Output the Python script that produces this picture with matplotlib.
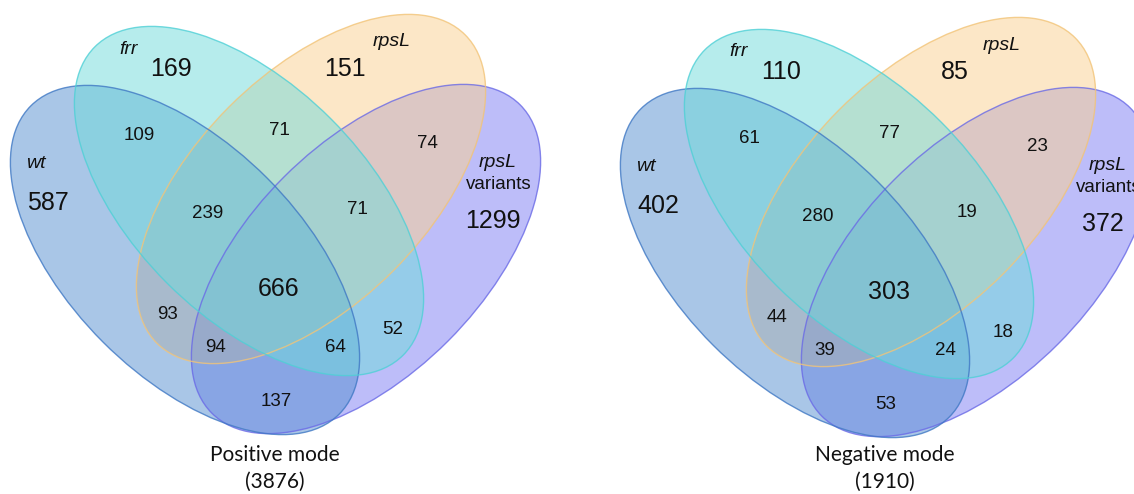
import numpy as np
import matplotlib.pyplot as plt
from matplotlib.patches import Ellipse

# set names and region counts (order of keys: wt, frr, rpsL, rpsL variants)
set_names = ['wt', 'frr', 'rpsL', 'rpsL']
region_keys = ['1000', '0100', '0010', '0001',
               '1100', '0110', '0011', '1001',
               '1110', '0111', '1010', '0101',
               '1011', '1101', '1111']
positive_counts = [587, 169, 151, 1299,
                   109, 71, 74, 137,
                   239, 71, 93, 52,
                   94, 64, 666]
negative_counts = [402, 110, 85, 372,
                   61, 77, 23, 53,
                   280, 19, 44, 18,
                   39, 24, 303]
panel_titles = ['Positive mode', 'Negative mode']

# layout (pixel coords of the left panel, y down)
ell_a, ell_b = 218, 116
ell_centers = [(185, 260), (249, 201), (311, 189), (366, 259)]
ell_angles = [45, 45, -45, -45]
fill_colors = ['#558fd1', '#6fdbdb', '#fbd191', '#7d7df5']
edge_colors = ['#3f78c4', '#4fd0d6', '#f2c478', '#6a6ae6']
draw_order = [3, 2, 0, 1]

label_pos = {'1000': (48, 203), '0100': (171, 69), '0010': (345, 69), '0001': (493, 221),
             '1100': (139, 135), '0110': (279, 130), '0011': (427, 143), '1001': (276, 401),
             '1110': (208, 213), '0111': (357, 209), '1010': (167, 314), '0101': (393, 329),
             '1011': (215, 347), '1101': (335, 347), '1111': (279, 289)}
big_keys = ['1000', '0100', '0010', '0001', '1111']
name_pos = [(36, 163), (129, 49), (392, 42), (498, 162)]
panel_offsets = [(0, 0), (610, 3)]

fig = plt.figure(figsize=(11.34, 4.94), dpi=100)
ax = fig.add_axes([0, 0, 1, 1])
ax.set_xlim(0, 1134)
ax.set_ylim(494, 0)
ax.axis('off')

num_font = 'Liberation Sans'

for p, counts in enumerate([positive_counts, negative_counts]):
    dx, dy = panel_offsets[p]
    for i in draw_order:
        cx, cy = ell_centers[i]
        ax.add_patch(Ellipse((cx + dx, cy + dy), 2 * ell_a, 2 * ell_b, angle=ell_angles[i],
                             facecolor=fill_colors[i], alpha=0.5, edgecolor='none'))
    for i in draw_order:
        cx, cy = ell_centers[i]
        ax.add_patch(Ellipse((cx + dx, cy + dy), 2 * ell_a, 2 * ell_b, angle=ell_angles[i],
                             facecolor='none', edgecolor=edge_colors[i], lw=1.0, alpha=0.8))

    for key, val in zip(region_keys, counts):
        x, y = label_pos[key]
        size = 18 if key in big_keys else 13.5
        ax.text(x + dx, y + dy, str(val), ha='center', va='center',
                fontsize=size, family=num_font, color='#111111')

    for i, name in enumerate(set_names):
        x, y = name_pos[i]
        ax.text(x + dx, y + dy, name, ha='center', va='center', fontsize=14,
                family=num_font, style='italic', color='#111111')
    ax.text(499 + dx, 184 + dy, 'variants', ha='center', va='center', fontsize=13.5,
            family=num_font, color='#111111')

    ax.text(275 + dx, 455, panel_titles[p], ha='center', va='center',
            fontsize=15, family='Lato', color='#111111')
    ax.text(275 + dx, 482, '(%d)' % sum(counts), ha='center', va='center',
            fontsize=15, family='Lato', color='#111111')

fig.savefig('out.png', dpi=100)
